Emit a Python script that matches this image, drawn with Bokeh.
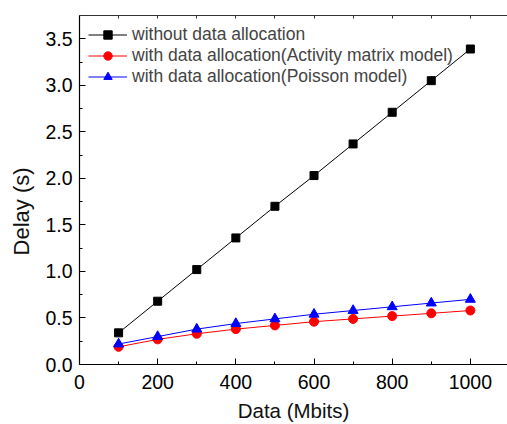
from bokeh.plotting import figure
from bokeh.models import (Range1d, LinearAxis, FixedTicker, Legend, LegendItem,
                          CustomJSTickFormatter)
from bokeh.embed import file_html
from bokeh.resources import INLINE

# ---- data ----
data_mbits = [100, 200, 300, 400, 500, 600, 700, 800, 900, 1000]
delay_without = [0.34, 0.68, 1.02, 1.36, 1.70, 2.03, 2.37, 2.71, 3.05, 3.39]
delay_activity = [0.19, 0.27, 0.33, 0.38, 0.42, 0.46, 0.49, 0.52, 0.55, 0.58]
delay_poisson = [0.22, 0.30, 0.38, 0.44, 0.49, 0.54, 0.58, 0.62, 0.66, 0.70]

labels = ["without data allocation",
          "with data allocation(Activity matrix model)",
          "with data allocation(Poisson model)"]
x_major = [0, 200, 400, 600, 800, 1000]
x_minor = [100, 300, 500, 700, 900]
x_top = [0, 100, 200, 300, 400, 500, 600, 700, 800, 900, 1000]
y_major = [0.0, 0.5, 1.0, 1.5, 2.0, 2.5, 3.0, 3.5]
y_minor = [0.25, 0.75, 1.25, 1.75, 2.25, 2.75, 3.25]

FONT = "Liberation Sans"

p = figure(width=507, height=424, output_backend="svg", toolbar_location=None,
           x_range=Range1d(0, 1095), y_range=Range1d(0, 3.75),
           min_border_left=79, min_border_right=0, min_border_top=15, min_border_bottom=60)
p.xgrid.visible = False
p.ygrid.visible = False
p.outline_line_color = None
p.background_fill_color = "white"
p.border_fill_color = "white"

xa = p.xaxis[0]
xa.ticker = FixedTicker(ticks=x_major, minor_ticks=x_minor)
xa.axis_label = "Data (Mbits)"
ya = p.yaxis[0]
ya.ticker = FixedTicker(ticks=y_major, minor_ticks=y_minor)
ya.formatter = CustomJSTickFormatter(code="return tick.toFixed(1);")
ya.axis_label = "Delay (s)" + "\u00a0" * 7

for ax in (xa, ya):
    ax.axis_line_color = "black"
    ax.axis_line_width = 1.2
    ax.major_tick_in = 6
    ax.major_tick_out = 0
    ax.minor_tick_in = 3
    ax.minor_tick_out = 0
    ax.major_tick_line_color = "black"
    ax.minor_tick_line_color = "black"
    ax.major_label_text_font = FONT
    ax.major_label_text_font_size = "19.5px"
    ax.major_label_text_color = "black"
    ax.axis_label_text_font = FONT
    ax.axis_label_text_font_style = "normal"
    ax.axis_label_text_color = "#111111"
ya.axis_label_text_font_size = "22px"
xa.axis_label_text_font_size = "20.5px"
ya.axis_label_standoff = 8
xa.axis_label_standoff = 7
ya.major_label_standoff = 7
xa.major_label_standoff = 10

top = LinearAxis(ticker=FixedTicker(ticks=x_top, minor_ticks=[]),
                 major_tick_in=3, major_tick_out=0, minor_tick_in=0, minor_tick_out=0,
                 major_label_text_font_size="0px", major_label_standoff=0,
                 axis_line_color="#333333", major_tick_line_color="#333333")
p.add_layout(top, "above")

l1 = p.line(data_mbits, delay_without, line_color="black", line_width=1)
s1 = p.scatter(data_mbits, delay_without, marker="square", size=8,
               fill_color="black", line_color="black")
l2 = p.line(data_mbits, delay_activity, line_color="red", line_width=1)
s2 = p.scatter(data_mbits, delay_activity, marker="circle", size=9,
               fill_color="red", line_color="red")
l3 = p.line(data_mbits, delay_poisson, line_color="blue", line_width=1)
s3 = p.scatter(data_mbits, delay_poisson, marker="triangle", size=10,
               fill_color="blue", line_color="blue")

legend = Legend(items=[LegendItem(label=labels[0], renderers=[l1, s1]),
                       LegendItem(label=labels[1], renderers=[l2, s2]),
                       LegendItem(label=labels[2], renderers=[l3, s3])],
                location=(9, 277), padding=0, margin=0, spacing=0,
                glyph_width=39, glyph_height=21, label_height=21, label_standoff=5,
                label_text_font=FONT, label_text_font_size="17.5px",
                border_line_alpha=0, background_fill_alpha=0)
p.add_layout(legend, "center")

open("out.html", "w").write(file_html(p, INLINE))
